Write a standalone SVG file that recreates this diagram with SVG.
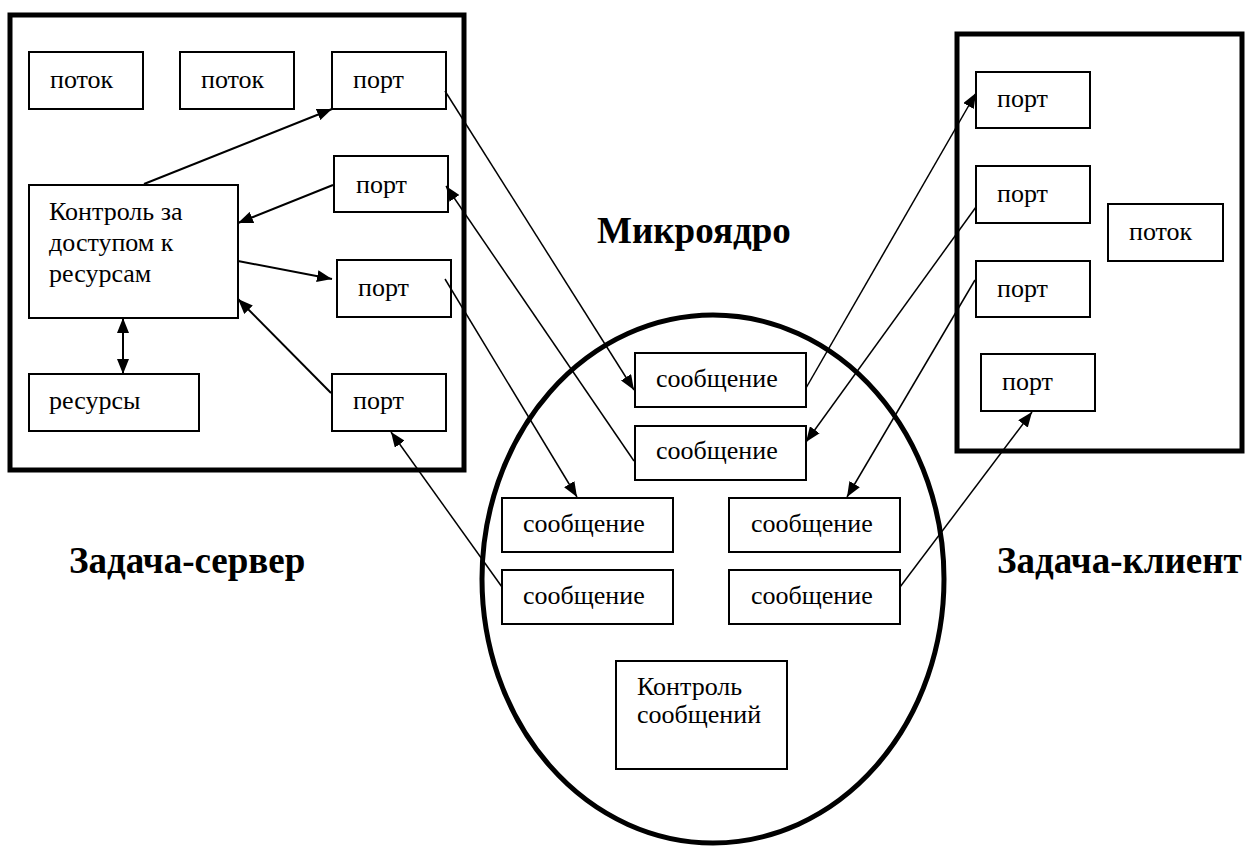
<svg xmlns="http://www.w3.org/2000/svg" width="1256" height="847" viewBox="0 0 1256 847">
<defs>
<style>
.n{fill:#fff;stroke:#000;stroke-width:2}
.big{fill:none;stroke:#000;stroke-width:5}
text{font-family:'Liberation Serif','DejaVu Serif',serif;fill:#000}
.t{font-size:26px}
.h{font-size:37px;font-weight:bold}
.c{stroke:#000;stroke-width:1.5;fill:none}
.ci{stroke:#000;stroke-width:2;fill:none}
</style>
<marker id="a" markerUnits="userSpaceOnUse" markerWidth="16" markerHeight="12" refX="15" refY="6" orient="auto-start-reverse" viewBox="0 0 16 12">
<path d="M0,0 L15,6 L0,12 z" fill="#000"/>
</marker>
</defs>
<rect width="1256" height="847" fill="#fff"/>
<g id="server-task">
<rect class="big" x="10" y="15" width="454" height="455"/>
</g>
<g id="client-task">
<rect class="big" x="957" y="34" width="285" height="417"/>
</g>
<g id="microkernel">
<ellipse class="big" cx="713" cy="579" rx="231" ry="264"/>
</g>
<g font-family="Liberation Serif, DejaVu Serif, serif">
<text class="h" x="597" y="243">Микроядро</text>
<text class="h" x="69" y="573">Задача-сервер</text>
<text class="h" x="997" y="573">Задача-клиент</text>

<g id="s-potok1"><rect class="n" x="29" y="52" width="114" height="57"/><text class="t" x="50" y="88">поток</text></g>
<g id="s-potok2"><rect class="n" x="180" y="52" width="114" height="57"/><text class="t" x="201" y="88">поток</text></g>
<g id="s-port1"><rect class="n" x="332" y="52" width="114" height="57"/><text class="t" x="353" y="88">порт</text></g>
<g id="s-port2"><rect class="n" x="334" y="156" width="114" height="56"/><text class="t" x="356" y="193">порт</text></g>
<g id="s-port3"><rect class="n" x="337" y="260" width="114" height="57"/><text class="t" x="358" y="296">порт</text></g>
<g id="s-port4"><rect class="n" x="332" y="374" width="114" height="57"/><text class="t" x="353" y="409">порт</text></g>
<g id="s-control"><rect class="n" x="29" y="185" width="209" height="133"/><text class="t" x="49" y="220">Контроль за</text><text class="t" x="49" y="251">доступом к</text><text class="t" x="49" y="282">ресурсам</text></g>
<g id="s-resources"><rect class="n" x="29" y="374" width="170" height="57"/><text class="t" x="49" y="409">ресурсы</text></g>

<g id="c-portA"><rect class="n" x="976" y="72" width="114" height="56"/><text class="t" x="997" y="107">порт</text></g>
<g id="c-portB"><rect class="n" x="976" y="166" width="114" height="57"/><text class="t" x="997" y="202">порт</text></g>
<g id="c-portC"><rect class="n" x="976" y="261" width="114" height="56"/><text class="t" x="997" y="297">порт</text></g>
<g id="c-portD"><rect class="n" x="981" y="354" width="114" height="57"/><text class="t" x="1002" y="390">порт</text></g>
<g id="c-potok"><rect class="n" x="1108" y="204" width="115" height="57"/><text class="t" x="1129" y="240">поток</text></g>

<g id="m-msg1"><rect class="n" x="635" y="353" width="171" height="54"/><text class="t" x="656" y="387">сообщение</text></g>
<g id="m-msg2"><rect class="n" x="635" y="426" width="171" height="54"/><text class="t" x="656" y="459">сообщение</text></g>
<g id="m-msg3"><rect class="n" x="502" y="498" width="171" height="54"/><text class="t" x="523" y="532">сообщение</text></g>
<g id="m-msg4"><rect class="n" x="729" y="498" width="171" height="54"/><text class="t" x="751" y="532">сообщение</text></g>
<g id="m-msg5"><rect class="n" x="502" y="570" width="171" height="54"/><text class="t" x="523" y="604">сообщение</text></g>
<g id="m-msg6"><rect class="n" x="729" y="570" width="171" height="54"/><text class="t" x="751" y="604">сообщение</text></g>
<g id="m-control"><rect class="n" x="616" y="661" width="171" height="108"/><text class="t" x="637" y="695">Контроль</text><text class="t" x="637" y="723">сообщений</text></g>
</g>
<g id="connectors">
<line class="ci" x1="144" y1="184" x2="332" y2="109" marker-end="url(#a)"/>
<line class="ci" x1="333" y1="185" x2="238" y2="223" marker-end="url(#a)"/>
<line class="ci" x1="238" y1="261" x2="332" y2="279" marker-end="url(#a)"/>
<line class="ci" x1="331" y1="393" x2="238" y2="299" marker-end="url(#a)"/>
<line class="ci" x1="123" y1="318" x2="123" y2="374" marker-start="url(#a)" marker-end="url(#a)"/>
<line class="c" x1="445" y1="91" x2="634" y2="390" marker-end="url(#a)"/>
<line class="c" x1="634" y1="461" x2="446" y2="186" marker-end="url(#a)"/>
<line class="c" x1="445" y1="279" x2="577" y2="497" marker-end="url(#a)"/>
<line class="c" x1="502" y1="587" x2="391" y2="432" marker-end="url(#a)"/>
<line class="c" x1="806" y1="388" x2="976" y2="93" marker-end="url(#a)"/>
<line class="c" x1="976" y1="207" x2="806" y2="442" marker-end="url(#a)"/>
<line class="c" x1="975" y1="280" x2="847" y2="497" marker-end="url(#a)"/>
<line class="c" x1="900" y1="587" x2="1032" y2="412" marker-end="url(#a)"/>
</g>
</svg>
